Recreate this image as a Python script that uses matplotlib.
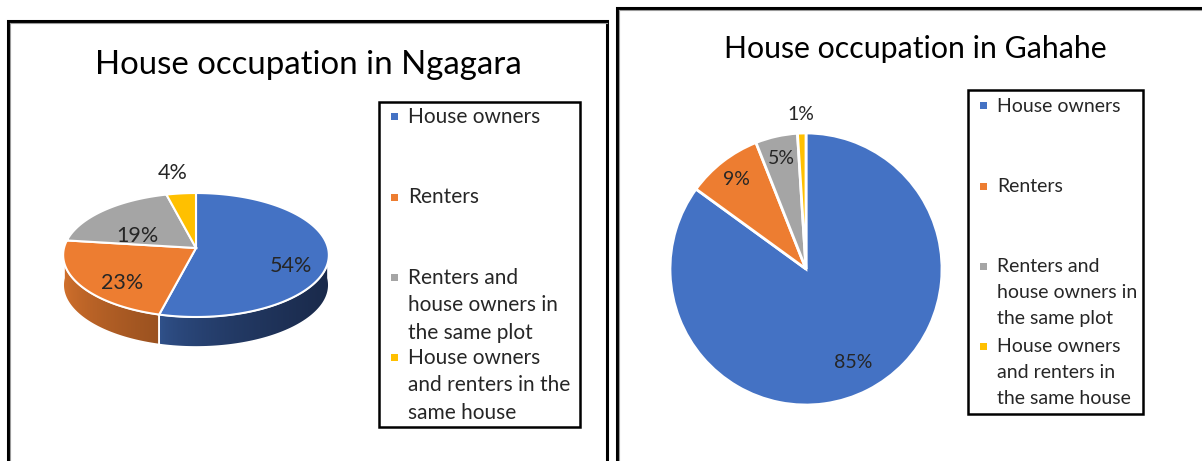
import numpy as np
import matplotlib.pyplot as plt
from matplotlib.patches import Polygon, Rectangle
from matplotlib.colors import to_rgb

plt.rcParams['font.family'] = ['Lato', 'DejaVu Sans']

# data
categories = ['House owners', 'Renters',
              'Renters and house owners in the same plot',
              'House owners and renters in the same house']
ngagara = [54, 23, 19, 4]
gahahe = [85, 9, 5, 1]
slice_colors = ['#4472C4', '#ED7D31', '#A5A5A5', '#FFC000']
side_colors = [('#31538e', '#1a2a4b'), ('#d5722d', '#9b5220'),
               ('#7f7f7f', '#6b6b6b'), ('#c99700', '#a07800')]

legend_left = ['House owners', 'Renters',
               'Renters and\nhouse owners in\nthe same plot',
               'House owners\nand renters in the\nsame house']
legend_right = ['House owners', 'Renters',
                'Renters and\nhouse owners in\nthe same plot',
                'House owners\nand renters in\nthe same house']

W, H = 1202, 461
fig = plt.figure(figsize=(W / 100, H / 100), dpi=100)
ax = fig.add_axes([0, 0, 1, 1])


def Y(y):
    # screen pixel row -> data y
    return H - y


def panel_frame(x0, y0, x1=None):
    xs = [x0, x0, x1] if x1 is not None else [x0, x0, W + 5]
    ys = [Y(H + 5), Y(y0), Y(y0)]
    if x1 is not None:
        xs.append(x1)
        ys.append(Y(H + 5))
    ax.plot(np.array(xs), np.array(ys), color='black', lw=2.2,
            solid_joinstyle='miter', zorder=5)
    ax.plot([x0 + 1.8, x0 + 1.8], [Y(H + 5), Y(y0 + 1.8)], color='#9a9a9a',
            lw=0.8, zorder=5)
    ax.plot([x0 + 1.8, (x1 if x1 else W + 5)], [Y(y0 + 1.8)] * 2,
            color='#9a9a9a', lw=0.8, zorder=5)


def legend_box(x0, y0, x1, y1, labels, first, step, line_h, fs, mk):
    ax.add_patch(Rectangle((x0, Y(y1)), x1 - x0, y1 - y0, fill=False,
                           edgecolor='black', lw=1.8, zorder=4))
    for i, lab in enumerate(labels):
        yc = first + i * step
        ax.add_patch(Rectangle((x0 + 12, Y(yc) - mk / 2), mk, mk,
                               color=slice_colors[i], lw=0, zorder=4))
        for j, line in enumerate(lab.split('\n')):
            ax.text(x0 + 29, Y(yc + j * line_h), line, fontsize=fs,
                    color='#262626', va='center', ha='left', zorder=4)


# ---------- left panel: 3D pie ----------
panel_frame(8, 21, 607)
ax.text(308, Y(65), 'House occupation in Ngagara', fontsize=23.8,
        ha='center', va='center', color='black')

cx, cy, A, B, k, depth = 196, 248, 132, 61.2, 0.113, 30


def proj(theta, r=1.0, drop=0.0):
    t = np.radians(theta)
    X, Yd = r * np.cos(t), r * np.sin(t)
    s = 1 + k * Yd
    return cx + A * X / s, Y(cy - B * Yd / s + drop)


total = sum(ngagara)
starts = 90 - 360 * np.cumsum([0] + ngagara[:-1]) / total
ends = starts - 360 * np.array(ngagara) / total

# side faces (front half only)
front = [(-540, -360), (-180, 0), (180, 360)]
for i in range(len(ngagara)):
    lo, hi = ends[i], starts[i]
    for f0, f1 in front:
        a0, a1 = max(lo, f0), min(hi, f1)
        if a1 <= a0:
            continue
        th = np.linspace(a0, a1, 80)
        tx, ty = proj(th)
        bx, by = proj(th, drop=depth)
        pts = np.column_stack([np.r_[tx, bx[::-1]], np.r_[ty, by[::-1]]])
        poly = Polygon(pts, closed=True, facecolor='none',
                       edgecolor='white', lw=1.2, zorder=2)
        ax.add_patch(poly)
        c0, c1 = np.array(to_rgb(side_colors[i][0])), np.array(to_rgb(side_colors[i][1]))
        g = np.linspace(0, 1, 200) ** 0.6
        img = (c0[None, :] * (1 - g[:, None]) + c1[None, :] * g[:, None])[None, :, :]
        img = np.repeat(img, 2, axis=0)
        im = ax.imshow(img, extent=(pts[:, 0].min(), pts[:, 0].max(),
                                    pts[:, 1].min(), pts[:, 1].max()),
                       aspect='auto', zorder=1.5, interpolation='bilinear')
        im.set_clip_path(poly)

# top faces
for i in range(len(ngagara)):
    th = np.linspace(starts[i], ends[i], 120)
    ax_, ay_ = proj(th)
    px, py = proj(0, r=0)
    pts = np.column_stack([np.r_[px, ax_], np.r_[py, ay_]])
    ax.add_patch(Polygon(pts, closed=True, facecolor=slice_colors[i],
                         edgecolor='white', lw=1.5, zorder=3))

left_r = [0.72, 0.65, 0.62, 1.7]
for i, v in enumerate(ngagara):
    mid = (starts[i] + ends[i]) / 2
    lx, ly = proj(mid, r=left_r[i])
    ax.text(lx, ly - 12, f'{v / total * 100:.0f}%', fontsize=15.5,
            ha='center', va='center', color='#262626', zorder=4)

legend_box(379, 102, 580, 427, legend_left, 117, 80.3, 27.5, 15, 7)

# ---------- right panel: flat pie ----------
panel_frame(617, 8)
ax.text(915, Y(49), 'House occupation in Gahahe', fontsize=21.8,
        ha='center', va='center', color='black')

pcx, pcy, pr = 806, 269, 136
wedges, _ = ax.pie(gahahe, colors=slice_colors, startangle=90,
                   counterclock=False, center=(pcx, Y(pcy)), radius=pr,
                   frame=True, wedgeprops=dict(edgecolor='white', linewidth=2))
right_r = [0.77, 0.83, 0.83, 1.14]
for i, w in enumerate(wedges):
    mid = np.radians((w.theta1 + w.theta2) / 2)
    ax.text(pcx + pr * right_r[i] * np.cos(mid),
            Y(pcy) + pr * right_r[i] * np.sin(mid),
            f'{gahahe[i] / sum(gahahe) * 100:.0f}%', fontsize=14,
            ha='center', va='center', color='#262626', zorder=4)

legend_box(968, 90, 1143, 414, legend_right, 106, 80.3, 25.8, 14, 7)

ax.set_xlim(0, W)
ax.set_ylim(0, H)
ax.set_aspect('auto')
ax.axis('off')
fig.savefig('out.png', dpi=100)
